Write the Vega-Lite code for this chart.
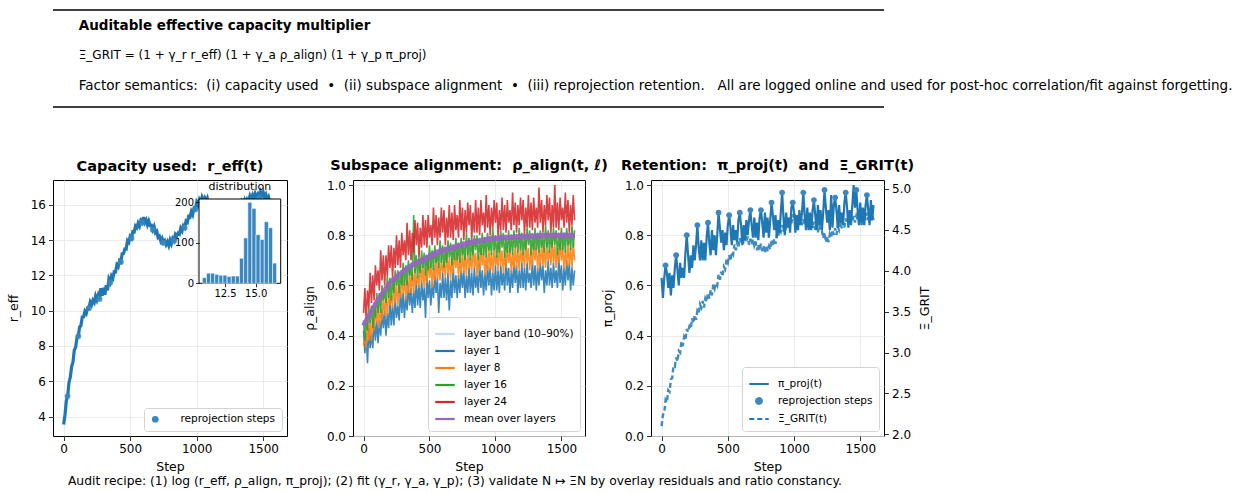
{
"$schema": "https://vega.github.io/schema/vega-lite/v6.json",
"background": "white",
"padding": {"left": 6, "top": 9, "right": 0, "bottom": 0},
"autosize": {"type": "pad"},
"bounds": "flush",
"spacing": 73,
"config": {
 "font": "DejaVu Sans",
 "view": {"stroke": "#000", "strokeWidth": 1},
 "axis": {"domain": false, "grid": true, "gridColor": "#e6e6e6", "gridWidth": 0.8, "tickColor": "#000", "tickSize": 4.5, "tickWidth": 0.8, "labelFont": "DejaVu Sans", "labelFontSize": 12, "labelColor": "#000", "labelPadding": 3, "titleFont": "DejaVu Sans", "titleFontSize": 12.5, "titleFontWeight": "normal", "titleColor": "#000"},
 "axisX": {"titlePadding": 5.5, "format": "d"},
 "axisY": {"titlePadding": 10},
 "legend": {"orient": "bottom-right", "offset": 5, "labelFont": "DejaVu Sans", "labelFontSize": 10.5, "labelColor": "#000", "fillColor": "white", "strokeColor": "#d3d3d3", "cornerRadius": 3, "padding": 6, "rowPadding": 5, "labelOffset": 8, "symbolOpacity": 1},
 "title": {"font": "DejaVu Sans", "fontSize": 14.5, "fontWeight": "bold", "color": "#000", "offset": 6},
 "text": {"font": "DejaVu Sans", "color": "#000"}
},
"resolve": {"scale": {"color": "independent"}, "legend": {"color": "independent"}},
"datasets": {
 "main": [
{"s":0,"r":3.55,"a":0.42,"b":0.36,"c":0.46,"d":0.49,"m":0.44,"p":0.63,"x":2.10},
{"s":10,"r":4.09,"a":0.33,"b":0.40,"c":0.38,"d":0.59,"m":0.452,"p":0.55,"x":2.24},
{"s":20,"r":4.88,"a":0.41,"b":0.35,"c":0.47,"d":0.46,"m":0.458,"p":0.63,"x":2.26},
{"s":30,"r":5.16,"a":0.29,"b":0.46,"c":0.42,"d":0.58,"m":0.472,"p":0.68,"x":2.42},
{"s":40,"r":5.92,"a":0.43,"b":0.38,"c":0.51,"d":0.51,"m":0.478,"p":0.65,"x":2.39},
{"s":50,"r":6.23,"a":0.35,"b":0.46,"c":0.45,"d":0.65,"m":0.492,"p":0.59,"x":2.54},
{"s":60,"r":6.84,"a":0.41,"b":0.38,"c":0.52,"d":0.53,"m":0.497,"p":0.65,"x":2.52},
{"s":70,"r":7.08,"a":0.35,"b":0.47,"c":0.43,"d":0.64,"m":0.51,"p":0.56,"x":2.67},
{"s":80,"r":7.76,"a":0.47,"b":0.42,"c":0.52,"d":0.54,"m":0.515,"p":0.64,"x":2.69},
{"s":90,"r":7.92,"a":0.38,"b":0.51,"c":0.47,"d":0.68,"m":0.528,"p":0.59,"x":2.84},
{"s":100,"r":8.45,"a":0.46,"b":0.45,"c":0.57,"d":0.60,"m":0.533,"p":0.67,"x":2.83},
{"s":110,"r":8.55,"a":0.37,"b":0.52,"c":0.49,"d":0.66,"m":0.545,"p":0.72,"x":2.94},
{"s":120,"r":9.07,"a":0.46,"b":0.43,"c":0.57,"d":0.58,"m":0.549,"p":0.66,"x":2.89},
{"s":130,"r":9.15,"a":0.40,"b":0.51,"c":0.49,"d":0.74,"m":0.561,"p":0.60,"x":3.02},
{"s":140,"r":9.64,"a":0.50,"b":0.46,"c":0.60,"d":0.62,"m":0.565,"p":0.69,"x":3.00},
{"s":150,"r":9.65,"a":0.43,"b":0.56,"c":0.54,"d":0.72,"m":0.577,"p":0.63,"x":3.13},
{"s":160,"r":9.96,"a":0.50,"b":0.48,"c":0.58,"d":0.60,"m":0.58,"p":0.67,"x":3.08},
{"s":170,"r":9.84,"a":0.40,"b":0.55,"c":0.53,"d":0.72,"m":0.591,"p":0.63,"x":3.19},
{"s":180,"r":10.15,"a":0.49,"b":0.48,"c":0.64,"d":0.64,"m":0.594,"p":0.73,"x":3.15},
{"s":190,"r":10.14,"a":0.43,"b":0.58,"c":0.55,"d":0.76,"m":0.605,"p":0.80,"x":3.29},
{"s":200,"r":10.49,"a":0.54,"b":0.52,"c":0.63,"d":0.67,"m":0.61,"p":0.72,"x":3.25},
{"s":210,"r":10.34,"a":0.44,"b":0.56,"c":0.54,"d":0.76,"m":0.617,"p":0.65,"x":3.32},
{"s":220,"r":10.58,"a":0.52,"b":0.51,"c":0.63,"d":0.63,"m":0.618,"p":0.72,"x":3.29},
{"s":230,"r":10.46,"a":0.44,"b":0.62,"c":0.57,"d":0.75,"m":0.627,"p":0.67,"x":3.42},
{"s":240,"r":10.82,"a":0.55,"b":0.53,"c":0.66,"d":0.67,"m":0.628,"p":0.76,"x":3.36},
{"s":250,"r":10.61,"a":0.47,"b":0.61,"c":0.60,"d":0.80,"m":0.637,"p":0.70,"x":3.46},
{"s":260,"r":10.88,"a":0.52,"b":0.52,"c":0.66,"d":0.68,"m":0.637,"p":0.76,"x":3.40},
{"s":270,"r":10.66,"a":0.46,"b":0.60,"c":0.57,"d":0.78,"m":0.645,"p":0.84,"x":3.51},
{"s":280,"r":11.27,"a":0.58,"b":0.55,"c":0.65,"d":0.67,"m":0.645,"p":0.75,"x":3.48},
{"s":290,"r":10.84,"a":0.49,"b":0.64,"c":0.60,"d":0.81,"m":0.653,"p":0.70,"x":3.59},
{"s":300,"r":11.30,"a":0.57,"b":0.57,"c":0.69,"d":0.72,"m":0.653,"p":0.78,"x":3.55},
{"s":310,"r":10.90,"a":0.47,"b":0.63,"c":0.60,"d":0.78,"m":0.661,"p":0.70,"x":3.63},
{"s":320,"r":11.44,"a":0.56,"b":0.54,"c":0.68,"d":0.70,"m":0.661,"p":0.77,"x":3.55},
{"s":330,"r":11.15,"a":0.50,"b":0.62,"c":0.60,"d":0.85,"m":0.669,"p":0.70,"x":3.66},
{"s":340,"r":11.78,"a":0.60,"b":0.57,"c":0.70,"d":0.72,"m":0.669,"p":0.79,"x":3.62},
{"s":350,"r":11.60,"a":0.52,"b":0.66,"c":0.64,"d":0.82,"m":0.677,"p":0.85,"x":3.73},
{"s":360,"r":11.96,"a":0.59,"b":0.57,"c":0.68,"d":0.70,"m":0.676,"p":0.77,"x":3.66},
{"s":370,"r":11.84,"a":0.49,"b":0.65,"c":0.62,"d":0.81,"m":0.683,"p":0.72,"x":3.76},
{"s":380,"r":12.20,"a":0.58,"b":0.57,"c":0.88,"d":0.73,"m":0.682,"p":0.82,"x":3.70},
{"s":390,"r":12.19,"a":0.51,"b":0.67,"c":0.65,"d":0.86,"m":0.689,"p":0.74,"x":3.83},
{"s":400,"r":12.59,"a":0.62,"b":0.60,"c":0.72,"d":0.76,"m":0.692,"p":0.80,"x":3.78},
{"s":410,"r":12.49,"a":0.52,"b":0.64,"c":0.63,"d":0.85,"m":0.69,"p":0.72,"x":3.85},
{"s":420,"r":12.83,"a":0.60,"b":0.59,"c":0.71,"d":0.71,"m":0.697,"p":0.80,"x":3.82},
{"s":430,"r":12.76,"a":0.51,"b":0.69,"c":0.65,"d":0.83,"m":0.694,"p":0.89,"x":3.95},
{"s":440,"r":13.22,"a":0.62,"b":0.61,"c":0.74,"d":0.75,"m":0.701,"p":0.83,"x":3.89},
{"s":450,"r":13.23,"a":0.54,"b":0.68,"c":0.67,"d":0.88,"m":0.698,"p":0.77,"x":3.99},
{"s":460,"r":13.49,"a":0.59,"b":0.59,"c":0.73,"d":0.76,"m":0.706,"p":0.82,"x":3.93},
{"s":470,"r":13.48,"a":0.47,"b":0.67,"c":0.64,"d":0.86,"m":0.703,"p":0.74,"x":4.05},
{"s":480,"r":13.96,"a":0.64,"b":0.61,"c":0.72,"d":0.75,"m":0.712,"p":0.81,"x":4.02},
{"s":490,"r":13.87,"a":0.55,"b":0.70,"c":0.66,"d":0.88,"m":0.709,"p":0.76,"x":4.14},
{"s":500,"r":14.20,"a":0.62,"b":0.63,"c":0.76,"d":0.79,"m":0.718,"p":0.84,"x":4.10},
{"s":510,"r":14.10,"a":0.52,"b":0.69,"c":0.67,"d":0.84,"m":0.715,"p":0.88,"x":4.19},
{"s":520,"r":14.47,"a":0.61,"b":0.59,"c":0.74,"d":0.76,"m":0.723,"p":0.83,"x":4.12},
{"s":530,"r":14.45,"a":0.55,"b":0.68,"c":0.66,"d":0.91,"m":0.72,"p":0.76,"x":4.23},
{"s":540,"r":14.79,"a":0.64,"b":0.62,"c":0.76,"d":0.79,"m":0.728,"p":0.84,"x":4.20},
{"s":550,"r":14.70,"a":0.57,"b":0.71,"c":0.69,"d":0.88,"m":0.725,"p":0.78,"x":4.32},
{"s":560,"r":14.96,"a":0.63,"b":0.62,"c":0.73,"d":0.76,"m":0.733,"p":0.82,"x":4.25},
{"s":570,"r":14.79,"a":0.49,"b":0.69,"c":0.67,"d":0.87,"m":0.73,"p":0.77,"x":4.34},
{"s":580,"r":15.10,"a":0.61,"b":0.62,"c":0.78,"d":0.79,"m":0.738,"p":0.86,"x":4.28},
{"s":590,"r":14.99,"a":0.55,"b":0.71,"c":0.69,"d":0.91,"m":0.735,"p":0.89,"x":4.40},
{"s":600,"r":15.29,"a":0.65,"b":0.65,"c":0.76,"d":0.81,"m":0.742,"p":0.84,"x":4.34},
{"s":610,"r":14.99,"a":0.55,"b":0.69,"c":0.67,"d":0.90,"m":0.739,"p":0.76,"x":4.38},
{"s":620,"r":15.13,"a":0.63,"b":0.63,"c":0.75,"d":0.76,"m":0.745,"p":0.84,"x":4.33},
{"s":630,"r":14.86,"a":0.54,"b":0.73,"c":0.69,"d":0.87,"m":0.742,"p":0.78,"x":4.44},
{"s":640,"r":15.07,"a":0.65,"b":0.65,"c":0.78,"d":0.79,"m":0.748,"p":0.86,"x":4.35},
{"s":650,"r":14.83,"a":0.50,"b":0.71,"c":0.71,"d":0.92,"m":0.745,"p":0.80,"x":4.42},
{"s":660,"r":14.84,"a":0.62,"b":0.62,"c":0.77,"d":0.79,"m":0.751,"p":0.86,"x":4.32},
{"s":670,"r":14.58,"a":0.55,"b":0.71,"c":0.68,"d":0.89,"m":0.748,"p":0.90,"x":4.39},
{"s":680,"r":14.76,"a":0.67,"b":0.65,"c":0.76,"d":0.78,"m":0.754,"p":0.84,"x":4.32},
{"s":690,"r":14.42,"a":0.57,"b":0.73,"c":0.70,"d":0.92,"m":0.751,"p":0.79,"x":4.39},
{"s":700,"r":14.50,"a":0.64,"b":0.67,"c":0.79,"d":0.82,"m":0.757,"p":0.87,"x":4.31},
{"s":710,"r":14.15,"a":0.55,"b":0.73,"c":0.70,"d":0.88,"m":0.754,"p":0.79,"x":4.36},
{"s":720,"r":14.22,"a":0.64,"b":0.63,"c":0.77,"d":0.79,"m":0.76,"p":0.85,"x":4.25},
{"s":730,"r":13.95,"a":0.57,"b":0.71,"c":0.69,"d":0.94,"m":0.757,"p":0.78,"x":4.32},
{"s":740,"r":14.09,"a":0.66,"b":0.65,"c":0.79,"d":0.82,"m":0.763,"p":0.87,"x":4.25},
{"s":750,"r":13.85,"a":0.59,"b":0.74,"c":0.72,"d":0.91,"m":0.76,"p":0.90,"x":4.33},
{"s":760,"r":13.96,"a":0.66,"b":0.65,"c":0.76,"d":0.78,"m":0.766,"p":0.85,"x":4.24},
{"s":770,"r":13.74,"a":0.55,"b":0.72,"c":0.70,"d":0.90,"m":0.763,"p":0.79,"x":4.30},
{"s":780,"r":13.90,"a":0.64,"b":0.64,"c":0.81,"d":0.81,"m":0.769,"p":0.89,"x":4.22},
{"s":790,"r":13.69,"a":0.57,"b":0.74,"c":0.72,"d":0.93,"m":0.766,"p":0.81,"x":4.31},
{"s":800,"r":13.99,"a":0.67,"b":0.67,"c":0.79,"d":0.84,"m":0.772,"p":0.87,"x":4.24},
{"s":810,"r":13.79,"a":0.57,"b":0.71,"c":0.70,"d":0.92,"m":0.769,"p":0.79,"x":4.30},
{"s":820,"r":14.08,"a":0.65,"b":0.65,"c":0.78,"d":0.78,"m":0.774,"p":0.86,"x":4.26},
{"s":830,"r":13.96,"a":0.56,"b":0.76,"c":0.72,"d":0.89,"m":0.771,"p":0.93,"x":4.38},
{"s":840,"r":14.32,"a":0.67,"b":0.67,"c":0.80,"d":0.81,"m":0.776,"p":0.88,"x":4.30},
{"s":850,"r":14.23,"a":0.59,"b":0.73,"c":0.74,"d":0.94,"m":0.773,"p":0.82,"x":4.39},
{"s":860,"r":14.39,"a":0.64,"b":0.64,"c":0.80,"d":0.81,"m":0.778,"p":0.88,"x":4.33},
{"s":870,"r":14.33,"a":0.57,"b":0.72,"c":0.70,"d":0.91,"m":0.775,"p":0.79,"x":4.44},
{"s":880,"r":14.66,"a":0.69,"b":0.66,"c":0.78,"d":0.80,"m":0.78,"p":0.86,"x":4.41},
{"s":890,"r":14.52,"a":0.59,"b":0.75,"c":0.72,"d":0.94,"m":0.777,"p":0.81,"x":4.52},
{"s":900,"r":14.80,"a":0.66,"b":0.68,"c":0.81,"d":0.84,"m":0.782,"p":0.89,"x":4.48},
{"s":910,"r":14.70,"a":0.56,"b":0.74,"c":0.72,"d":0.89,"m":0.779,"p":0.97,"x":4.56},
{"s":920,"r":15.07,"a":0.65,"b":0.64,"c":0.79,"d":0.81,"m":0.784,"p":0.87,"x":4.48},
{"s":930,"r":15.00,"a":0.58,"b":0.72,"c":0.71,"d":0.96,"m":0.781,"p":0.80,"x":4.58},
{"s":940,"r":15.34,"a":0.68,"b":0.66,"c":0.81,"d":0.83,"m":0.786,"p":0.89,"x":4.54},
{"s":950,"r":15.30,"a":0.60,"b":0.75,"c":0.74,"d":0.92,"m":0.783,"p":0.83,"x":4.65},
{"s":960,"r":15.61,"a":0.67,"b":0.66,"c":0.78,"d":0.80,"m":0.788,"p":0.87,"x":4.57},
{"s":970,"r":15.44,"a":0.56,"b":0.73,"c":0.72,"d":0.91,"m":0.785,"p":0.81,"x":4.65},
{"s":980,"r":15.80,"a":0.65,"b":0.65,"c":0.83,"d":0.83,"m":0.79,"p":0.91,"x":4.58},
{"s":990,"r":15.74,"a":0.58,"b":0.75,"c":0.74,"d":0.94,"m":0.787,"p":0.93,"x":4.69},
{"s":1000,"r":16.14,"a":0.68,"b":0.68,"c":0.80,"d":0.85,"m":0.789,"p":0.89,"x":4.63},
{"s":1010,"r":15.99,"a":0.58,"b":0.72,"c":0.71,"d":0.93,"m":0.786,"p":0.81,"x":4.66},
{"s":1020,"r":16.28,"a":0.66,"b":0.66,"c":0.79,"d":0.79,"m":0.79,"p":0.88,"x":4.60},
{"s":1030,"r":16.11,"a":0.57,"b":0.77,"c":0.73,"d":0.90,"m":0.787,"p":0.82,"x":4.69},
{"s":1040,"r":16.42,"a":0.68,"b":0.68,"c":0.82,"d":0.82,"m":0.791,"p":0.90,"x":4.60},
{"s":1050,"r":16.23,"a":0.60,"b":0.74,"c":0.75,"d":0.95,"m":0.788,"p":0.84,"x":4.66},
{"s":1060,"r":16.39,"a":0.65,"b":0.65,"c":0.81,"d":0.82,"m":0.792,"p":0.89,"x":4.56},
{"s":1070,"r":16.18,"a":0.58,"b":0.73,"c":0.71,"d":0.92,"m":0.789,"p":0.97,"x":4.63},
{"s":1080,"r":16.36,"a":0.70,"b":0.67,"c":0.79,"d":0.81,"m":0.793,"p":0.88,"x":4.56},
{"s":1090,"r":16.02,"a":0.60,"b":0.76,"c":0.73,"d":0.94,"m":0.79,"p":0.82,"x":4.64},
{"s":1100,"r":16.10,"a":0.67,"b":0.69,"c":0.82,"d":0.85,"m":0.793,"p":0.91,"x":4.56},
{"s":1110,"r":15.75,"a":0.57,"b":0.75,"c":0.73,"d":0.90,"m":0.79,"p":0.82,"x":4.62},
{"s":1120,"r":15.87,"a":0.66,"b":0.65,"c":0.80,"d":0.82,"m":0.794,"p":0.89,"x":4.51},
{"s":1130,"r":15.60,"a":0.59,"b":0.73,"c":0.72,"d":0.97,"m":0.791,"p":0.82,"x":4.58},
{"s":1140,"r":15.74,"a":0.69,"b":0.67,"c":0.82,"d":0.84,"m":0.795,"p":0.90,"x":4.52},
{"s":1150,"r":15.50,"a":0.61,"b":0.76,"c":0.75,"d":0.93,"m":0.792,"p":0.94,"x":4.60},
{"s":1160,"r":15.61,"a":0.68,"b":0.67,"c":0.79,"d":0.81,"m":0.796,"p":0.88,"x":4.50},
{"s":1170,"r":15.29,"a":0.57,"b":0.74,"c":0.73,"d":0.92,"m":0.792,"p":0.82,"x":4.56},
{"s":1180,"r":15.45,"a":0.66,"b":0.66,"c":0.83,"d":0.84,"m":0.797,"p":0.92,"x":4.47},
{"s":1190,"r":15.29,"a":0.59,"b":0.76,"c":0.74,"d":0.95,"m":0.793,"p":0.84,"x":4.56},
{"s":1200,"r":15.49,"a":0.69,"b":0.69,"c":0.81,"d":0.86,"m":0.797,"p":0.90,"x":4.48},
{"s":1210,"r":15.29,"a":0.59,"b":0.73,"c":0.72,"d":0.94,"m":0.793,"p":0.82,"x":4.49},
{"s":1220,"r":15.48,"a":0.67,"b":0.67,"c":0.80,"d":0.80,"m":0.797,"p":0.89,"x":4.40},
{"s":1230,"r":15.31,"a":0.58,"b":0.78,"c":0.74,"d":0.91,"m":0.794,"p":0.98,"x":4.47},
{"s":1240,"r":15.62,"a":0.69,"b":0.69,"c":0.83,"d":0.83,"m":0.798,"p":0.91,"x":4.35},
{"s":1250,"r":15.48,"a":0.61,"b":0.75,"c":0.76,"d":0.96,"m":0.794,"p":0.85,"x":4.42},
{"s":1260,"r":15.64,"a":0.65,"b":0.66,"c":0.82,"d":0.83,"m":0.798,"p":0.90,"x":4.35},
{"s":1270,"r":15.58,"a":0.59,"b":0.74,"c":0.72,"d":0.93,"m":0.795,"p":0.82,"x":4.45},
{"s":1280,"r":15.91,"a":0.70,"b":0.68,"c":0.80,"d":0.82,"m":0.799,"p":0.96,"x":4.41},
{"s":1290,"r":15.72,"a":0.60,"b":0.77,"c":0.74,"d":0.95,"m":0.795,"p":0.83,"x":4.50},
{"s":1300,"r":15.95,"a":0.68,"b":0.70,"c":0.83,"d":0.85,"m":0.799,"p":0.92,"x":4.44},
{"s":1310,"r":15.75,"a":0.58,"b":0.76,"c":0.74,"d":0.91,"m":0.796,"p":0.95,"x":4.52},
{"s":1320,"r":16.02,"a":0.67,"b":0.66,"c":0.81,"d":0.83,"m":0.80,"p":0.90,"x":4.44},
{"s":1330,"r":15.90,"a":0.60,"b":0.74,"c":0.73,"d":0.99,"m":0.796,"p":0.83,"x":4.54},
{"s":1340,"r":16.19,"a":0.69,"b":0.68,"c":0.82,"d":0.85,"m":0.80,"p":0.92,"x":4.50},
{"s":1350,"r":16.05,"a":0.62,"b":0.77,"c":0.75,"d":0.94,"m":0.797,"p":0.85,"x":4.60},
{"s":1360,"r":16.26,"a":0.68,"b":0.68,"c":0.79,"d":0.81,"m":0.801,"p":0.89,"x":4.52},
{"s":1370,"r":16.04,"a":0.57,"b":0.75,"c":0.73,"d":0.92,"m":0.797,"p":0.84,"x":4.60},
{"s":1380,"r":16.30,"a":0.66,"b":0.67,"c":0.84,"d":0.84,"m":0.801,"p":0.93,"x":4.53},
{"s":1390,"r":16.19,"a":0.60,"b":0.77,"c":0.75,"d":0.96,"m":0.798,"p":0.97,"x":4.64},
{"s":1400,"r":16.49,"a":0.70,"b":0.70,"c":0.82,"d":0.86,"m":0.802,"p":0.91,"x":4.58},
{"s":1410,"r":16.29,"a":0.60,"b":0.74,"c":0.73,"d":0.95,"m":0.798,"p":0.83,"x":4.63},
{"s":1420,"r":16.53,"a":0.67,"b":0.68,"c":0.81,"d":0.81,"m":0.802,"p":0.90,"x":4.58},
{"s":1430,"r":16.31,"a":0.59,"b":0.78,"c":0.75,"d":0.92,"m":0.798,"p":0.84,"x":4.68},
{"s":1440,"r":16.62,"a":0.69,"b":0.69,"c":0.83,"d":0.83,"m":0.801,"p":0.92,"x":4.60},
{"s":1450,"r":16.43,"a":0.61,"b":0.76,"c":0.76,"d":1.0,"m":0.797,"p":1.0,"x":4.67},
{"s":1460,"r":16.59,"a":0.66,"b":0.67,"c":0.82,"d":0.83,"m":0.802,"p":0.91,"x":4.59},
{"s":1470,"r":16.38,"a":0.59,"b":0.75,"c":0.72,"d":0.93,"m":0.798,"p":0.98,"x":4.67},
{"s":1480,"r":16.71,"a":0.71,"b":0.69,"c":0.80,"d":0.82,"m":0.801,"p":0.90,"x":4.62},
{"s":1490,"r":16.52,"a":0.61,"b":0.77,"c":0.74,"d":0.95,"m":0.797,"p":0.84,"x":4.70},
{"s":1500,"r":16.70,"a":0.68,"b":0.70,"c":0.83,"d":0.86,"m":0.802,"p":0.93,"x":4.63},
{"s":1510,"r":16.40,"a":0.58,"b":0.76,"c":0.74,"d":0.91,"m":0.798,"p":0.84,"x":4.70},
{"s":1520,"r":16.57,"a":0.67,"b":0.66,"c":0.81,"d":0.83,"m":0.801,"p":0.91,"x":4.60},
{"s":1530,"r":16.30,"a":0.60,"b":0.74,"c":0.73,"d":0.97,"m":0.797,"p":0.84,"x":4.68},
{"s":1540,"r":16.44,"a":0.70,"b":0.68,"c":0.83,"d":0.85,"m":0.802,"p":0.92,"x":4.62},
{"s":1550,"r":16.15,"a":0.62,"b":0.77,"c":0.76,"d":0.94,"m":0.798,"p":0.96,"x":4.71},
{"s":1560,"r":16.21,"a":0.69,"b":0.68,"c":0.80,"d":0.81,"m":0.801,"p":0.90,"x":4.62},
{"s":1570,"r":15.84,"a":0.58,"b":0.75,"c":0.74,"d":0.92,"m":0.797,"p":0.84,"x":4.68},
{"s":1580,"r":16.00,"a":0.67,"b":0.67,"c":0.84,"d":0.84,"m":0.802,"p":0.94,"x":4.60},
{"s":1590,"r":15.79,"a":0.60,"b":0.77,"c":0.75,"d":0.96,"m":0.798,"p":0.86,"x":4.69},
{"s":1600,"r":15.99,"a":0.66,"b":0.70,"c":0.82,"d":0.86,"m":0.80,"p":0.92,"x":4.62}
 ],
 "rep": [
{"s":30,"r":5.16,"p":0.68},{"s":110,"r":8.55,"p":0.72},{"s":190,"r":10.14,"p":0.80},{"s":270,"r":10.66,"p":0.84},
{"s":350,"r":11.6,"p":0.85},{"s":430,"r":12.76,"p":0.89},{"s":510,"r":14.1,"p":0.88},{"s":590,"r":14.99,"p":0.89},
{"s":670,"r":14.58,"p":0.90},{"s":750,"r":13.85,"p":0.90},{"s":830,"r":13.96,"p":0.93},{"s":910,"r":14.7,"p":0.97},
{"s":990,"r":15.74,"p":0.93},{"s":1070,"r":16.18,"p":0.97},{"s":1150,"r":15.5,"p":0.94},{"s":1230,"r":15.31,"p":0.98},
{"s":1310,"r":15.75,"p":0.95},{"s":1390,"r":16.19,"p":0.97},{"s":1470,"r":16.38,"p":0.98},{"s":1550,"r":16.15,"p":0.96}
 ],
 "hist": [
{"b0":10.65,"b1":10.99,"n":14},{"b0":10.99,"b1":11.32,"n":25},{"b0":11.32,"b1":11.66,"n":25},{"b0":11.66,"b1":12.0,"n":22},
{"b0":12.0,"b1":12.33,"n":20},{"b0":12.33,"b1":12.67,"n":20},{"b0":12.67,"b1":13.01,"n":17},{"b0":13.01,"b1":13.35,"n":18},
{"b0":13.35,"b1":13.68,"n":18},{"b0":13.68,"b1":14.02,"n":62},{"b0":14.02,"b1":14.36,"n":112},{"b0":14.36,"b1":14.69,"n":200},
{"b0":14.69,"b1":15.03,"n":185},{"b0":15.03,"b1":15.37,"n":120},{"b0":15.37,"b1":15.7,"n":108},{"b0":15.7,"b1":16.04,"n":152},
{"b0":16.04,"b1":16.38,"n":137},{"b0":16.38,"b1":16.71,"n":50}
 ]
},
"vconcat": [
 {
  "width": 831, "height": 97,
  "view": {"stroke": null},
  "data": {"values": [{}]},
  "layer": [
   {"mark": {"type": "rule", "stroke": "#000", "strokeWidth": 1.3},
    "encoding": {"x": {"datum": 0, "type": "quantitative", "scale": {"domain": [0, 1], "nice": false}, "axis": null},
                 "x2": {"datum": 1},
                 "y": {"datum": 1, "type": "quantitative", "scale": {"domain": [0, 1], "nice": false}, "axis": null}}},
   {"mark": {"type": "rule", "stroke": "#000", "strokeWidth": 1.3},
    "encoding": {"x": {"datum": 0, "type": "quantitative"}, "x2": {"datum": 1}, "y": {"datum": 0, "type": "quantitative"}}},
   {"mark": {"type": "text", "align": "left", "baseline": "middle", "fontWeight": "bold", "fontSize": 13.5},
    "encoding": {"x": {"datum": 0.031, "type": "quantitative"}, "y": {"datum": 0.835, "type": "quantitative"}, "text": {"value": "Auditable effective capacity multiplier"}}},
   {"mark": {"type": "text", "align": "left", "baseline": "middle", "fontSize": 12},
    "encoding": {"x": {"datum": 0.031, "type": "quantitative"}, "y": {"datum": 0.536, "type": "quantitative"}, "text": {"value": "Ξ_GRIT = (1 + γ_r r_eff) (1 + γ_a ρ_align) (1 + γ_p π_proj)"}}},
   {"mark": {"type": "text", "align": "left", "baseline": "middle", "fontSize": 13.5},
    "encoding": {"x": {"datum": 0.031, "type": "quantitative"}, "y": {"datum": 0.216, "type": "quantitative"}, "text": {"value": "Factor semantics:\u00a0 (i) capacity used\u00a0 •\u00a0 (ii) subspace alignment\u00a0 •\u00a0 (iii) reprojection retention.\u00a0\u00a0 All are logged online and used for post-hoc correlation/fit against forgetting."}}}
  ]
 },
 {
  "hconcat": [
   {
    "width": 234, "height": 256,
    "title": {"text": "Capacity used:\u00a0 r_eff(t)"},
    "layer": [
     {
      "layer": [
       {"data": {"name": "main"},
        "mark": {"type": "line", "color": "#1f77b4", "strokeWidth": 3.2},
        "encoding": {
         "x": {"field": "s", "type": "quantitative", "scale": {"domain": [-80, 1679], "nice": false, "zero": false}, "axis": {"title": "Step", "values": [0, 500, 1000, 1500]}},
         "y": {"field": "r", "type": "quantitative", "scale": {"domain": [2.9, 17.4], "nice": false, "zero": false}, "axis": {"title": "r_eff", "values": [4, 6, 8, 10, 12, 14, 16]}}
        }},
       {"data": {"name": "rep"},
        "mark": {"type": "point", "filled": true, "size": 34, "opacity": 0.85},
        "encoding": {
         "x": {"field": "s", "type": "quantitative"},
         "y": {"field": "r", "type": "quantitative"},
         "color": {"datum": "reprojection steps", "type": "nominal", "scale": {"range": ["#3a87c1"]},
                   "legend": {"title": null, "symbolType": "circle", "symbolSize": 45, "labelOffset": 20}}
        }}
      ]
     },
     {
      "layer": [
       {"data": {"values": [{}]},
        "mark": {"type": "rect", "fill": "white", "stroke": "#000", "strokeWidth": 1},
        "encoding": {
         "x": {"datum": 10.38, "type": "quantitative", "scale": {"domain": [10.38, 17.04], "range": [146, 227.7], "nice": false, "zero": false},
               "axis": {"orient": "bottom", "offset": -152.7, "values": [12.5, 15], "format": ".1f", "grid": false, "title": null, "labelFontSize": 10, "tickSize": 3.5, "labelPadding": 2, "zindex": 1}},
         "x2": {"datum": 17.04},
         "y": {"datum": 0, "type": "quantitative", "scale": {"domain": [0, 208], "range": [103.3, 19], "nice": false},
               "axis": {"orient": "left", "offset": -146, "values": [0, 100, 200], "grid": false, "title": null, "labelFontSize": 10, "tickSize": 3.5, "labelPadding": 2, "zindex": 1}},
         "y2": {"datum": 208}
        }},
       {"data": {"name": "hist"},
        "mark": {"type": "rect", "fill": "#3a87c1", "stroke": "white", "strokeWidth": 0.6},
        "encoding": {
         "x": {"field": "b0", "type": "quantitative"},
         "x2": {"field": "b1"},
         "y": {"field": "n", "type": "quantitative"},
         "y2": {"datum": 0}
        }},
       {"data": {"values": [{}]},
        "mark": {"type": "text", "baseline": "bottom", "align": "center", "fontSize": 11, "dy": -7},
        "encoding": {
         "x": {"datum": 13.71, "type": "quantitative"},
         "y": {"datum": 208, "type": "quantitative"},
         "text": {"value": "distribution"}
        }}
      ]
     }
    ],
    "resolve": {"scale": {"x": "independent", "y": "independent"}, "axis": {"x": "independent", "y": "independent"}}
   },
   {
    "width": 232, "height": 256,
    "title": {"text": "Subspace alignment:\u00a0 ρ_align(t, ℓ)"},
    "layer": [
     {"data": {"name": "main"},
      "transform": [{"fold": ["a", "b", "c", "d"], "as": ["layer", "v"]}],
      "mark": {"type": "line", "strokeWidth": 1.6, "opacity": 0.88},
      "encoding": {
       "x": {"field": "s", "type": "quantitative", "scale": {"domain": [-80, 1679], "nice": false, "zero": false}, "axis": {"title": "Step", "values": [0, 500, 1000, 1500]}},
       "y": {"field": "v", "type": "quantitative", "scale": {"domain": [0, 1.02], "nice": false}, "axis": {"title": "ρ_align", "values": [0, 0.2, 0.4, 0.6, 0.8, 1.0], "format": ".1f"}},
       "color": {"field": "layer", "type": "nominal",
                 "scale": {"domain": ["band", "a", "b", "c", "d", "m"], "range": ["#c6dbef", "#1f77b4", "#ff7f0e", "#2ca02c", "#d62728", "#9467bd"]},
                 "legend": {"title": null, "symbolType": "stroke", "symbolSize": 380, "symbolStrokeWidth": 2.2, "rowPadding": -5.5,
                            "labelExpr": "datum.label == 'band' ? 'layer band (10–90%)' : datum.label == 'a' ? 'layer 1' : datum.label == 'b' ? 'layer 8' : datum.label == 'c' ? 'layer 16' : datum.label == 'd' ? 'layer 24' : 'mean over layers'"}}
      }},
     {"data": {"name": "main"},
      "mark": {"type": "line", "strokeWidth": 4.5, "opacity": 0.95},
      "encoding": {
       "x": {"field": "s", "type": "quantitative"},
       "y": {"field": "m", "type": "quantitative"},
       "color": {"datum": "m", "type": "nominal"}
      }}
    ]
   },
   {
    "width": 233, "height": 256,
    "title": {"text": "Retention:\u00a0 π_proj(t)\u00a0 and\u00a0 Ξ_GRIT(t)"},
    "layer": [
     {
      "layer": [
       {"data": {"name": "main"},
        "mark": {"type": "line", "strokeWidth": 2.2},
        "encoding": {
         "x": {"field": "s", "type": "quantitative", "scale": {"domain": [-80, 1679], "nice": false, "zero": false}, "axis": {"title": "Step", "values": [0, 500, 1000, 1500]}},
         "y": {"field": "p", "type": "quantitative", "scale": {"domain": [0, 1.02], "nice": false}, "axis": {"title": "π_proj", "values": [0, 0.2, 0.4, 0.6, 0.8, 1.0], "format": ".1f"}},
         "color": {"datum": "pi", "type": "nominal",
                   "scale": {"domain": ["pi", "rep", "xi"], "range": ["#1f77b4", "#3a87c1", "#1f77b4"]},
                   "legend": {"title": null, "symbolType": "stroke", "symbolSize": 380, "symbolStrokeWidth": 2, "rowPadding": -2.5,
                              "labelExpr": "datum.label == 'pi' ? 'π_proj(t)' : datum.label == 'rep' ? 'reprojection steps' : 'Ξ_GRIT(t)'"}},
         "strokeDash": {"datum": "pi", "type": "nominal",
                        "scale": {"domain": ["pi", "rep", "xi"], "range": [[1, 0], [1, 0], [5, 3]]},
                        "legend": {"title": null, "symbolType": "stroke", "symbolSize": 380, "symbolStrokeWidth": 2, "rowPadding": -2.5,
                                   "labelExpr": "datum.label == 'pi' ? 'π_proj(t)' : datum.label == 'rep' ? 'reprojection steps' : 'Ξ_GRIT(t)'"}}
        }},
       {"data": {"name": "rep"},
        "mark": {"type": "point", "filled": true, "size": 380, "opacity": 1},
        "encoding": {
         "x": {"field": "s", "type": "quantitative"},
         "y": {"field": "p", "type": "quantitative"},
         "color": {"datum": "rep", "type": "nominal"},
         "shape": {"datum": "rep", "type": "nominal",
                   "scale": {"domain": ["pi", "rep", "xi"], "range": ["stroke", "M-0.3,0A0.3,0.3,0,1,0,0.3,0A0.3,0.3,0,1,0,-0.3,0Z", "stroke"]},
                   "legend": {"title": null, "symbolType": "stroke", "symbolSize": 380, "symbolStrokeWidth": 2, "rowPadding": -2.5,
                              "labelExpr": "datum.label == 'pi' ? 'π_proj(t)' : datum.label == 'rep' ? 'reprojection steps' : 'Ξ_GRIT(t)'"}}
        }}
      ]
     },
     {"data": {"name": "main"},
      "mark": {"type": "line", "strokeWidth": 2.4, "opacity": 0.85},
      "encoding": {
       "x": {"field": "s", "type": "quantitative"},
       "y": {"field": "x", "type": "quantitative", "scale": {"domain": [1.98, 5.11], "nice": false, "zero": false},
             "axis": {"orient": "right", "title": "Ξ_GRIT", "titleAngle": 270, "titleBaseline": "top", "titlePadding": 8, "values": [2, 2.5, 3, 3.5, 4, 4.5, 5], "format": ".1f", "grid": false}},
       "color": {"datum": "xi", "type": "nominal"},
       "strokeDash": {"datum": "xi", "type": "nominal"}
      }}
    ],
    "resolve": {"scale": {"y": "independent"}}
   }
  ],
  "spacing": 66,
  "bounds": "flush",
  "resolve": {"scale": {"color": "independent", "strokeDash": "independent", "shape": "independent"}, "legend": {"color": "independent", "strokeDash": "independent", "shape": "independent"}}
 },
 {
  "width": 831, "height": 228,
  "view": {"stroke": null},
  "data": {"values": [{}]},
  "mark": {"type": "text", "align": "left", "baseline": "middle", "fontSize": 12.3},
  "encoding": {
   "x": {"datum": 0.018, "type": "quantitative", "scale": {"domain": [0, 1], "nice": false}, "axis": null},
   "y": {"datum": 0, "type": "quantitative", "scale": {"domain": [0, 1], "nice": false}, "axis": null},
   "text": {"value": "Audit recipe: (1) log (r_eff, ρ_align, π_proj); (2) fit (γ_r, γ_a, γ_p); (3) validate N ↦ ΞN by overlay residuals and ratio constancy."}
  }
 }
]
}
